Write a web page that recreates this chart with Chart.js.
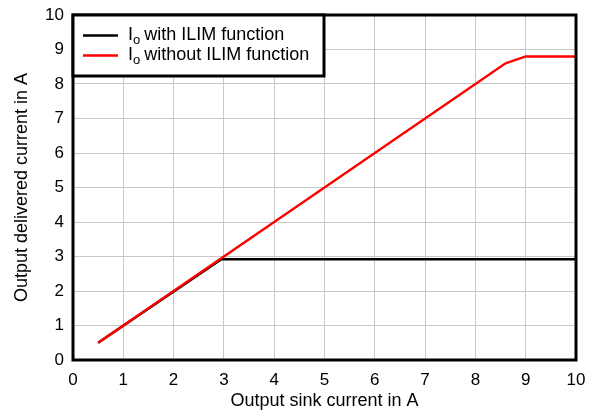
<!DOCTYPE html>
<html>
<head>
<meta charset="utf-8">
<script src="https://cdn.jsdelivr.net/npm/chart.js@4.4.1/dist/chart.umd.min.js"></script>
<style>
html,body{margin:0;padding:0;background:#fff;}
#wrap{width:595px;height:416px;}
</style>
</head>
<body>
<div id="wrap"><canvas id="c" width="595" height="416"></canvas></div>
<script>
const withX = [0.5, 2.95, 10];
const withY = [0.5, 2.92, 2.92];
const withoutX = [0.5, 8.6, 9, 10];
const withoutY = [0.5, 8.6, 8.8, 8.8];
const seriesNames = ["with ILIM function", "without ILIM function"];
const xTitle = "Output sink current in A";
const yTitle = "Output delivered current in A";

const toPts = (xs, ys) => xs.map((x, i) => ({x: x, y: ys[i]}));
const FONT = "'Liberation Sans', Arial, sans-serif";

const frame = {
  id: 'frame',
  afterDatasetsDraw(chart) {
    const a = chart.chartArea, ctx = chart.ctx;
    ctx.save();
    ctx.strokeStyle = '#000';
    ctx.lineWidth = 3;
    ctx.strokeRect(a.left, a.top, a.right - a.left, a.bottom - a.top);
    // legend box
    const bx = a.left, by = a.top, bw = 251, bh = 61;
    ctx.fillStyle = '#fff';
    ctx.fillRect(bx, by, bw, bh);
    ctx.lineWidth = 3;
    ctx.strokeRect(bx, by, bw, bh);
    const cols = ['#000', '#ff0000'];
    const ys = [by + 20.5, by + 40.5];
    for (let i = 0; i < 2; i++) {
      ctx.strokeStyle = cols[i];
      ctx.lineWidth = 2.5;
      ctx.beginPath();
      ctx.moveTo(bx + 10, ys[i]);
      ctx.lineTo(bx + 45, ys[i]);
      ctx.stroke();
      ctx.fillStyle = '#000';
      ctx.textBaseline = 'middle';
      ctx.textAlign = 'left';
      ctx.font = '18px ' + FONT;
      let x = bx + 55;
      ctx.fillText('I', x, ys[i]);
      x += ctx.measureText('I').width;
      ctx.font = '13px ' + FONT;
      ctx.fillText('o', x, ys[i] + 5);
      x += ctx.measureText('o').width + 4;
      ctx.font = '18px ' + FONT;
      ctx.fillText(seriesNames[i], x, ys[i]);
    }
    ctx.restore();
  }
};

new Chart(document.getElementById('c'), {
  type: 'scatter',
  data: {
    datasets: [
      {label: 'Io ' + seriesNames[0], data: toPts(withX, withY), showLine: true, borderColor: '#000', borderWidth: 2.5, pointRadius: 0, order: 1, fill: false},
      {label: 'Io ' + seriesNames[1], data: toPts(withoutX, withoutY), showLine: true, borderColor: '#ff0000', borderWidth: 2.5, pointRadius: 0, order: 0, fill: false}
    ]
  },
  options: {
    responsive: false,
    animation: false,
    layout: {padding: {left: 8, right: 19, top: 15, bottom: 0}},
    plugins: {legend: {display: false}, tooltip: {enabled: false}},
    scales: {
      x: {
        type: 'linear', min: 0, max: 10,
        ticks: {stepSize: 1, color: '#000', font: {size: 17, family: FONT}, padding: 10},
        grid: {color: '#c8c8c8', lineWidth: 1, drawTicks: false},
        border: {display: false},
        title: {display: true, text: xTitle, color: '#000', font: {size: 18, family: FONT}, padding: {top: 0, bottom: 4}},
        afterFit(s) { s.height = 56; s.paddingLeft = 0; s.paddingRight = 0; }
      },
      y: {
        type: 'linear', min: 0, max: 10,
        ticks: {stepSize: 1, color: '#000', font: {size: 17, family: FONT}, padding: 9},
        grid: {color: '#c8c8c8', lineWidth: 1, drawTicks: false},
        border: {display: false},
        title: {display: true, text: yTitle, color: '#000', font: {size: 18, family: FONT}, padding: {top: 3, bottom: 0}},
        afterFit(s) { s.width = 65; s.paddingTop = 0; s.paddingBottom = 0; }
      }
    }
  },
  plugins: [frame]
});
</script>
</body>
</html>
